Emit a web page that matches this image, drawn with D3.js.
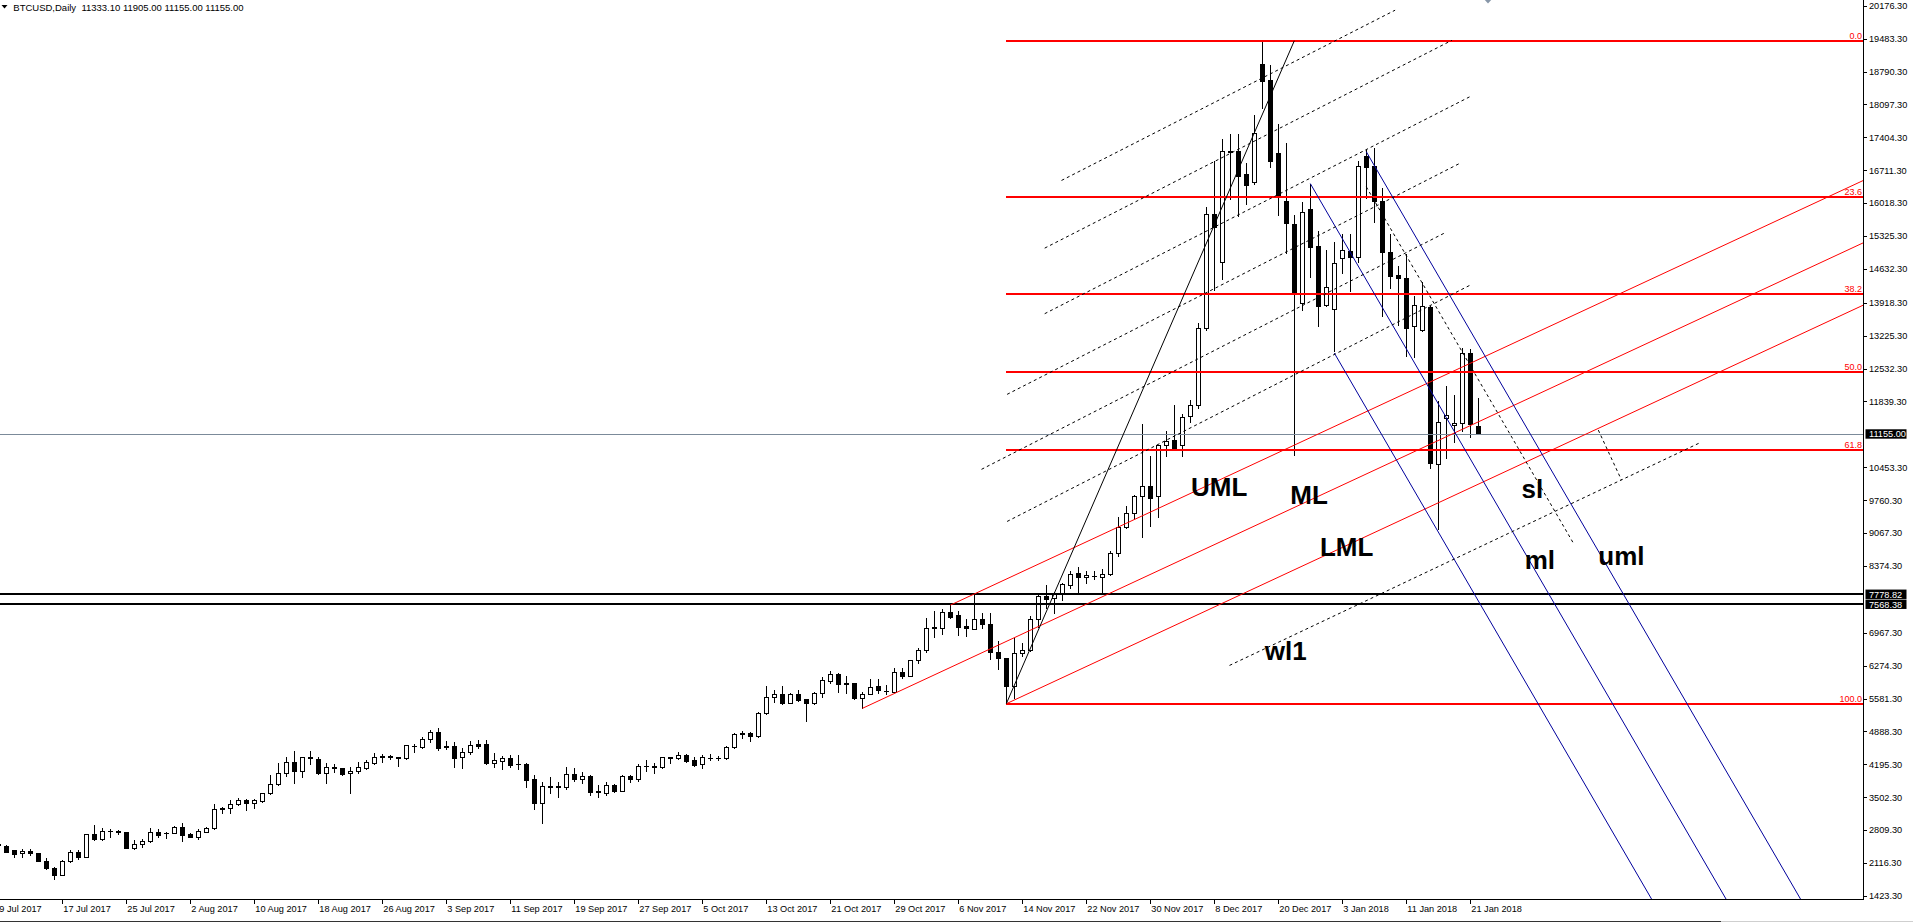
<!DOCTYPE html>
<html>
<head>
<meta charset="utf-8">
<script src="https://cdnjs.cloudflare.com/ajax/libs/d3/7.8.5/d3.min.js"></script>
<style>
body { margin: 0; background: #fff; overflow: hidden; }
text { font-family: "Liberation Sans", Arial, sans-serif; }
</style>
</head>
<body>
<svg id="chart"></svg>
<script>
const width = 1913, height = 923;
const plotRight = 1863, plotBottom = 899;

// daily candles, 9 Jul 2017 .. 22 Jan 2018 (broker data has gaps in Dec/Jan)
const opens = [2510,2483,2392,2322,2378,2322,2160,2006,1858,2153,2343,2251,2722,2631,2790,2792,2764,2441,2511,2582,
2778,2750,2743,2883,2722,2673,2778,2848,3283,3270,3354,3445,3375,3424,3585,3775,4007,4238,4063,4330,
4309,4021,4126,4112,4007,4063,4126,4231,4351,4350,4344,4323,4580,4568,4723,4870,4575,4582,4358,4463,
4624,4624,4231,4273,4323,4210,4203,3880,3375,3720,3733,3726,3993,3887,3957,3613,3599,3761,3642,3950,
3887,4155,4150,4147,4337,4323,4393,4287,4196,4330,4323,4323,4568,4842,4849,4793,5284,5607,5670,5495,
5670,5565,5481,5691,5958,6099,5895,5902,5600,5670,5846,5748,5727,6148,6057,6393,6604,7067,7060,7397,
7341,7109,7057,7254,7156,6556,6441,5842,6539,6605,7254,7747,7697,7812,7976,8223,8141,8165,8141,8206,
8649,9190,9494,9847,10069,9847,10930,11029,10914,11537,11767,13392,15796,14771,17090,17107,16626,16453,18948,18610,
17077,16062,15574,13919,15889,15123,13882,13785,14852,15010,14874,17002,16791,16055,14987,14513,14445,13423,13348,13822,
10514,11500,11341,11379,12867,11333.1];
const highs = [2560,2490,2400,2413,2413,2330,2217,2041,2181,2392,2392,2730,2918,2862,2834,2813,2764,2603,2631,2848,
2827,2764,2890,2953,2743,2834,2883,3361,3304,3445,3480,3459,3459,3600,3971,4217,4344,4477,4358,4477,
4344,4217,4196,4126,4147,4252,4288,4442,4414,4393,4344,4610,4624,4779,4919,4961,4694,4674,4533,4694,
4709,4709,4428,4372,4393,4393,4217,3971,3831,3922,3831,4147,4112,4042,3971,3761,3831,3775,3971,3971,
4203,4288,4231,4351,4358,4449,4407,4344,4393,4407,4372,4582,4849,4905,4884,5298,5853,5762,5853,5691,
5762,5572,5719,6043,6162,6113,6057,5902,5726,5986,5986,5867,6218,6218,6400,6639,7271,7425,7467,7601,
7432,7250,7787,7377,7377,6786,6441,6868,6761,7320,7771,7976,7836,8017,8264,8362,8264,8264,8305,8690,
9396,9633,9863,11356,10685,10914,11217,11775,11586,11874,13490,15936,16904,17372,17483,17468,16866,17881,19437,18933,
17678,17280,15777,16040,16430,15424,15040,15198,15364,15364,16904,17129,17182,16340,15364,14686,14949,14062,14348,13859,
11845,12169,11980,12957,12942,11905];
const lows = [2450,2350,2238,2238,2287,2155,1985,1788,1858,2132,2202,2244,2603,2603,2673,2722,2427,2406,2462,2568,
2673,2638,2740,2589,2659,2631,2764,2834,3164,3164,3340,3234,3284,3410,3571,3761,3950,3810,3936,4196,
4000,3810,4042,3980,3599,4021,4091,4203,4252,4309,4168,4316,4463,4533,4674,4498,4512,4147,4126,4414,
4533,4203,4133,4098,4133,4098,3726,3255,2967,3599,3515,3677,3852,3810,3550,3515,3550,3620,3642,3831,
3852,4060,4007,4126,4231,4302,4238,4161,4126,4288,4288,4309,4533,4744,4695,4779,5256,5516,5467,5481,
5530,5116,5467,5621,5902,5727,5691,5565,5375,5670,5691,5677,5712,6021,6050,6337,6569,6885,6934,7285,
6920,6899,7041,7073,6417,6195,5473,5596,6482,6580,7098,7500,7385,7648,7910,7787,8017,8100,7829,8190,
8592,9166,9371,8977,9215,9412,10685,10808,10685,11397,11701,13351,14196,14418,16115,15739,16002,16430,18031,16776,
15776,14972,10703,13769,14460,13423,13859,12897,14551,14160,14777,16130,15626,13634,14235,13446,12792,12769,13318,10439,
9161,10642,10980,11228,11093,11155];
const closes = [2490,2357,2308,2378,2322,2160,2006,1858,2153,2343,2251,2722,2624,2792,2792,2764,2441,2511,2582,2764,
2708,2743,2883,2708,2673,2792,2848,3248,3248,3361,3445,3375,3445,3585,3775,4007,4252,4063,4344,4344,
4021,4133,4140,3993,4063,4133,4238,4344,4372,4365,4323,4596,4590,4723,4870,4547,4561,4337,4463,4603,
4589,4231,4288,4330,4189,4196,3866,3375,3740,3733,3726,3993,3880,3950,3606,3627,3761,3642,3950,3887,
4168,4168,4164,4344,4344,4393,4273,4182,4344,4337,4330,4568,4835,4849,4793,5284,5607,5670,5481,5670,
5551,5481,5705,5972,6099,5881,5909,5600,5670,5832,5761,5740,6134,6057,6393,6604,7060,7081,7397,7306,
7095,7060,7254,7156,6556,6441,5842,6539,6605,7254,7747,7689,7779,7993,8206,8141,8182,8160,8206,8649,
9190,9494,9847,10069,9798,10914,11012,10832,11504,11767,13392,15796,15509,17126,17107,16580,16400,17505,18580,16904,
16175,15589,14137,15829,15085,13859,14250,14761,15025,14889,16791,16776,16055,14987,14483,14438,13385,13874,13859,10552,
11416,11545,11379,12867,11356,11155];

const dateLabels = ["9 Jul 2017","17 Jul 2017","25 Jul 2017","2 Aug 2017","10 Aug 2017","18 Aug 2017","26 Aug 2017",
  "3 Sep 2017","11 Sep 2017","19 Sep 2017","27 Sep 2017","5 Oct 2017","13 Oct 2017","21 Oct 2017","29 Oct 2017",
  "6 Nov 2017","14 Nov 2017","22 Nov 2017","30 Nov 2017","8 Dec 2017","20 Dec 2017","3 Jan 2018","11 Jan 2018","21 Jan 2018"];
const dateBars = [0,8,16,24,32,40,48,56,64,72,80,88,96,104,112,120,128,136,144,152,160,168,176,184];

const priceTicks = ["20176.30","19483.30","18790.30","18097.30","17404.30","16711.30","16018.30","15325.30","14632.30",
  "13918.30","13225.30","12532.30","11839.30","10453.30","9760.30","9067.30","8374.30","6967.30","6274.30",
  "5581.30","4888.30","4195.30","3502.30","2809.30","2116.30","1423.30"];

const fibHigh = 19437, fibLow = 5473, fibStartBar = 126;
const fibLevels = [0, 23.6, 38.2, 50, 61.8, 100];
const levelLines = [7778.82, 7568.38];
const lastPrice = 11155;

// pitchfork pivots [bar, price]: A, B, C
const redFork = [[108, 5375], [119, 7550], [126, 5473]];
const blueFork = [[164, 16430], [171, 17100], [167, 12860]];
const trendLine = [[126, 5473], [162, 19437]];

// parallel dashed channel: [startBar, endBar, price at bar 150]
const channelSlope = 86;
const channelLines = [[132.9, 174.6, 17966], [130.8, 181.7, 16721], [130.8, 183.9, 15340],
  [126.1, 182.6, 14045], [122.9, 181, 12741], [126.1, 184, 11368]];
const dashedSegs = [
  [[153.9, 6280], [212.7, 10970]],
  [[171, 16361], [196.9, 8851]],
  [[200, 11237], [202.9, 10184]]
];

const annoText = ["UML", "ML", "LML", "sl", "ml", "uml", "wl1"];
const annoBar = [149.1, 161.5, 165.2, 190.4, 190.8, 200, 158.3];
const annoPrice = [9849, 9680, 8585, 9807, 8311, 8396, 6394];

const svg = d3.select("#chart")
  .attr("width", width)
  .attr("height", height);

const x = d3.scaleLinear().domain([0, 185]).range([-1.7, -1.7 + 8 * 185]);
const y = d3.scaleLinear().domain([1423.3, 20176.3]).range([896, 5.7]);

svg.append("clipPath").attr("id", "clip")
  .append("rect").attr("x", 0).attr("y", 0).attr("width", plotRight).attr("height", plotBottom);

const plot = svg.append("g").attr("clip-path", "url(#clip)");

// candles
const bars = opens.map((o, i) => ({ i, o, h: highs[i], l: lows[i], c: closes[i] }));
const cg = plot.append("g").attr("shape-rendering", "crispEdges");

const candle = cg.selectAll("g.candle")
  .data(bars)
  .join("g")
  .attr("class", "candle");

candle.append("line")
  .attr("x1", d => Math.round(x(d.i)) + 0.5)
  .attr("x2", d => Math.round(x(d.i)) + 0.5)
  .attr("y1", d => Math.round(y(d.h)))
  .attr("y2", d => Math.round(y(d.l)) + 1)
  .attr("stroke", "#000");

candle.each(function(d) {
  const px = Math.round(x(d.i));
  const yo = Math.round(y(d.o)), yc = Math.round(y(d.c));
  const top = Math.min(yo, yc), bot = Math.max(yo, yc);
  const g = d3.select(this);
  if (bot - top < 1) {
    g.append("line")
      .attr("x1", px - 2).attr("x2", px + 3)
      .attr("y1", top + 0.5).attr("y2", top + 0.5)
      .attr("stroke", "#000");
  } else {
    g.append("rect")
      .attr("x", px - 1.5).attr("y", top + 0.5)
      .attr("width", 4).attr("height", bot - top)
      .attr("fill", d.c >= d.o ? "#fff" : "#000")
      .attr("stroke", "#000");
  }
});

// current price line
plot.append("line")
  .attr("x1", 0).attr("x2", plotRight)
  .attr("y1", Math.round(y(lastPrice)) + 0.5).attr("y2", Math.round(y(lastPrice)) + 0.5)
  .attr("stroke", "#7b8a99")
  .attr("shape-rendering", "crispEdges");

// horizontal levels
plot.selectAll("line.level")
  .data(levelLines)
  .join("line")
  .attr("class", "level")
  .attr("x1", 0).attr("x2", plotRight)
  .attr("y1", d => Math.round(y(d))).attr("y2", d => Math.round(y(d)))
  .attr("stroke", "#000").attr("stroke-width", 2)
  .attr("shape-rendering", "crispEdges");

// fibonacci retracement
const fibPrice = lv => fibHigh - lv / 100 * (fibHigh - fibLow);
plot.selectAll("line.fib")
  .data(fibLevels)
  .join("line")
  .attr("class", "fib")
  .attr("x1", x(fibStartBar)).attr("x2", plotRight)
  .attr("y1", d => Math.round(y(fibPrice(d)))).attr("y2", d => Math.round(y(fibPrice(d))))
  .attr("stroke", "#ff0000").attr("stroke-width", 2)
  .attr("shape-rendering", "crispEdges");

svg.selectAll("text.fib")
  .data(fibLevels)
  .join("text")
  .attr("class", "fib")
  .attr("x", plotRight - 1)
  .attr("y", d => y(fibPrice(d)) - 2)
  .attr("text-anchor", "end")
  .attr("font-size", "9px")
  .attr("fill", "#ff0000")
  .text(d => d.toFixed(1));

const line = d3.line().x(d => x(d[0])).y(d => y(d[1]));

// pitchforks
function forkLines(pts) {
  const [a, b, c] = pts;
  const mid = [(b[0] + c[0]) / 2, (b[1] + c[1]) / 2];
  const slope = (mid[1] - a[1]) / (mid[0] - a[0]);
  const far = 320;
  return [a, b, c].map(p => [p, [far, p[1] + slope * (far - p[0])]]);
}

plot.selectAll("path.redfork")
  .data(forkLines(redFork))
  .join("path")
  .attr("class", "redfork")
  .attr("d", line)
  .attr("fill", "none")
  .attr("stroke", "#ff0000")
  .attr("stroke-width", 1);

plot.selectAll("path.bluefork")
  .data(forkLines(blueFork))
  .join("path")
  .attr("class", "bluefork")
  .attr("d", line)
  .attr("fill", "none")
  .attr("stroke", "#00009c")
  .attr("stroke-width", 1);

// trend line
plot.append("path")
  .attr("d", line(trendLine))
  .attr("fill", "none")
  .attr("stroke", "#000")
  .attr("stroke-width", 1);

// dashed channel + other dashed lines
const channelSegs = channelLines.map(([b0, b1, p]) =>
  [[b0, p + channelSlope * (b0 - 150)], [b1, p + channelSlope * (b1 - 150)]]);

plot.selectAll("path.dash")
  .data(channelSegs.concat(dashedSegs))
  .join("path")
  .attr("class", "dash")
  .attr("d", line)
  .attr("fill", "none")
  .attr("stroke", "#000")
  .attr("stroke-width", 1)
  .attr("stroke-dasharray", "3,3");

// labels on chart
svg.selectAll("text.anno")
  .data(annoText)
  .join("text")
  .attr("class", "anno")
  .attr("x", (d, i) => x(annoBar[i]))
  .attr("y", (d, i) => y(annoPrice[i]))
  .attr("font-size", "26px")
  .attr("font-weight", "bold")
  .attr("fill", "#000")
  .text(d => d);

// axes frame
const frame = svg.append("g").attr("shape-rendering", "crispEdges");
frame.append("line")
  .attr("x1", plotRight + 0.5).attr("x2", plotRight + 0.5)
  .attr("y1", 0).attr("y2", plotBottom + 1)
  .attr("stroke", "#000");
frame.append("line")
  .attr("x1", 0).attr("x2", plotRight + 1)
  .attr("y1", plotBottom + 0.5).attr("y2", plotBottom + 0.5)
  .attr("stroke", "#000");

// price axis
const tickVals = priceTicks.map(Number);
frame.selectAll("line.ptick")
  .data(tickVals)
  .join("line")
  .attr("class", "ptick")
  .attr("x1", plotRight).attr("x2", plotRight + 4)
  .attr("y1", d => Math.round(y(d)) + 0.5).attr("y2", d => Math.round(y(d)) + 0.5)
  .attr("stroke", "#000");

svg.selectAll("text.plabel")
  .data(priceTicks)
  .join("text")
  .attr("class", "plabel")
  .attr("x", plotRight + 6)
  .attr("y", d => y(+d) + 3.3)
  .attr("font-size", "9.2px")
  .attr("fill", "#000")
  .text(d => d);

// price boxes
const boxes = [lastPrice].concat(levelLines);
const boxG = svg.selectAll("g.pbox")
  .data(boxes)
  .join("g")
  .attr("class", "pbox");
boxG.append("rect")
  .attr("x", plotRight + 2.5)
  .attr("y", d => y(d) - 4.7)
  .attr("width", 41)
  .attr("height", 9.4)
  .attr("fill", "#000");
boxG.append("text")
  .attr("x", plotRight + 6)
  .attr("y", d => y(d) + 3.3)
  .attr("font-size", "9.2px")
  .attr("fill", "#fff")
  .text(d => d.toFixed(2));

// date axis
frame.selectAll("line.dtick")
  .data(dateBars)
  .join("line")
  .attr("class", "dtick")
  .attr("x1", d => Math.round(x(d)) + 0.5).attr("x2", d => Math.round(x(d)) + 0.5)
  .attr("y1", plotBottom).attr("y2", plotBottom + 5)
  .attr("stroke", "#000");

svg.selectAll("text.dlabel")
  .data(dateLabels)
  .join("text")
  .attr("class", "dlabel")
  .attr("x", (d, i) => x(dateBars[i]) + 1)
  .attr("y", 912)
  .attr("font-size", "9.2px")
  .attr("fill", "#000")
  .text(d => d);

// window bottom edge
frame.append("line")
  .attr("x1", 0).attr("x2", 1721).attr("y1", 921.5).attr("y2", 921.5)
  .attr("stroke", "#333");
frame.append("line")
  .attr("x1", 1721).attr("x2", width).attr("y1", 921.5).attr("y2", 921.5)
  .attr("stroke", "#cfcfcf");

// title
svg.append("path")
  .attr("d", "M1.5,5 L7.5,5 L4.5,8.5 Z")
  .attr("fill", "#000");
svg.append("text")
  .attr("x", 13.3)
  .attr("y", 10.5)
  .attr("font-size", "9.5px")
  .attr("fill", "#000")
  .style("white-space", "pre")
  .text("BTCUSD,Daily  11333.10 11905.00 11155.00 11155.00");

// shift marker at top
svg.append("path")
  .attr("d", "M1483,-2 L1488,3.5 L1493,-2 L1488,-7 Z")
  .attr("fill", "#8796a8");
</script>
</body>
</html>
